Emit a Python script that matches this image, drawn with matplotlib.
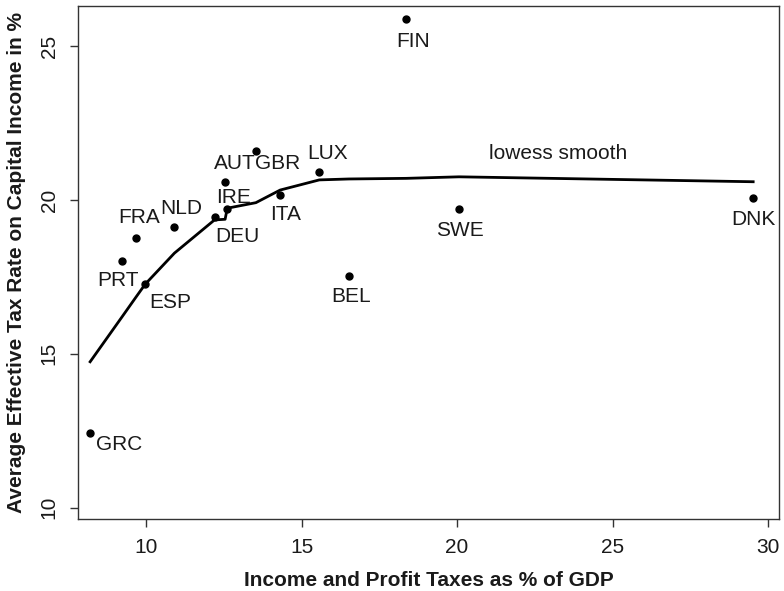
import matplotlib
matplotlib.use("Agg")
import matplotlib.pyplot as plt

plt.rcParams['font.family'] = ['Liberation Sans', 'DejaVu Sans']

countries = ["GRC", "PRT", "FRA", "ESP", "NLD", "DEU", "AUT", "IRE",
             "GBR", "ITA", "LUX", "BEL", "FIN", "SWE", "DNK"]
income_taxes = [8.20, 9.24, 9.68, 9.97, 10.91, 12.20, 12.54, 12.61,
                13.53, 14.31, 15.57, 16.52, 18.36, 20.06, 29.52]
capital_tax = [12.43, 18.01, 18.76, 17.26, 19.13, 19.45, 20.59, 19.70,
               21.59, 20.16, 20.90, 17.53, 25.88, 19.71, 20.07]
lowess_fit = [14.74, 16.22, 16.85, 17.26, 18.27, 19.35, 19.37, 19.73,
              19.91, 20.32, 20.65, 20.68, 20.70, 20.75, 20.59]

# label offsets in pixels (dx, dy) relative to the point (dy positive = up)
label_offsets = {
    "GRC": (29, -12), "PRT": (-4, -19), "FRA": (3, 21), "ESP": (25, -18),
    "NLD": (7, 18), "DEU": (23, -20), "AUT": (10, 18), "IRE": (6, 12),
    "GBR": (22, -13), "ITA": (5, -20), "LUX": (8, 19), "BEL": (2, -21),
    "FIN": (7, -23), "SWE": (1, -22), "DNK": (0, -22),
}

fig = plt.figure(figsize=(7.84, 5.91), dpi=100)
ax = fig.add_axes([0.0995, 0.1218, 0.8941, 0.868])

ax.plot(income_taxes, lowess_fit, color="black", lw=2.0, zorder=2)
ax.plot(income_taxes, capital_tax, "o", color="black", ms=5, zorder=3)

for c, x, y in zip(countries, income_taxes, capital_tax):
    dx, dy = label_offsets[c]
    ax.annotate(c, (x, y), xytext=(dx, dy), textcoords="offset pixels",
                ha="center", va="center", fontsize=15, color="#1a1a1a")

ax.text(23.25, 21.52, "lowess smooth", ha="center", va="center",
        fontsize=15, color="#1a1a1a")

ax.set_xlim(7.81, 30.35)
ax.set_ylim(9.63, 26.30)
ax.set_xticks([10, 15, 20, 25, 30])
ax.set_yticks([10, 15, 20, 25])
ax.tick_params(axis="both", direction="out", length=6, width=1,
               color="#333333", labelsize=15, labelcolor="#1a1a1a", pad=8)
for lbl in ax.get_yticklabels():
    lbl.set_rotation(90)
    lbl.set_va("center")
for s in ax.spines.values():
    s.set_color("#333333")
    s.set_linewidth(1.0)

ax.set_xlabel("Income and Profit Taxes as % of GDP", fontsize=15,
              fontweight="bold", color="#1a1a1a", labelpad=10)
ax.set_ylabel("Average Effective Tax Rate on Capital Income in %",
              fontsize=15, fontweight="bold", color="#1a1a1a", labelpad=10)

fig.savefig("out.png", dpi=100)
